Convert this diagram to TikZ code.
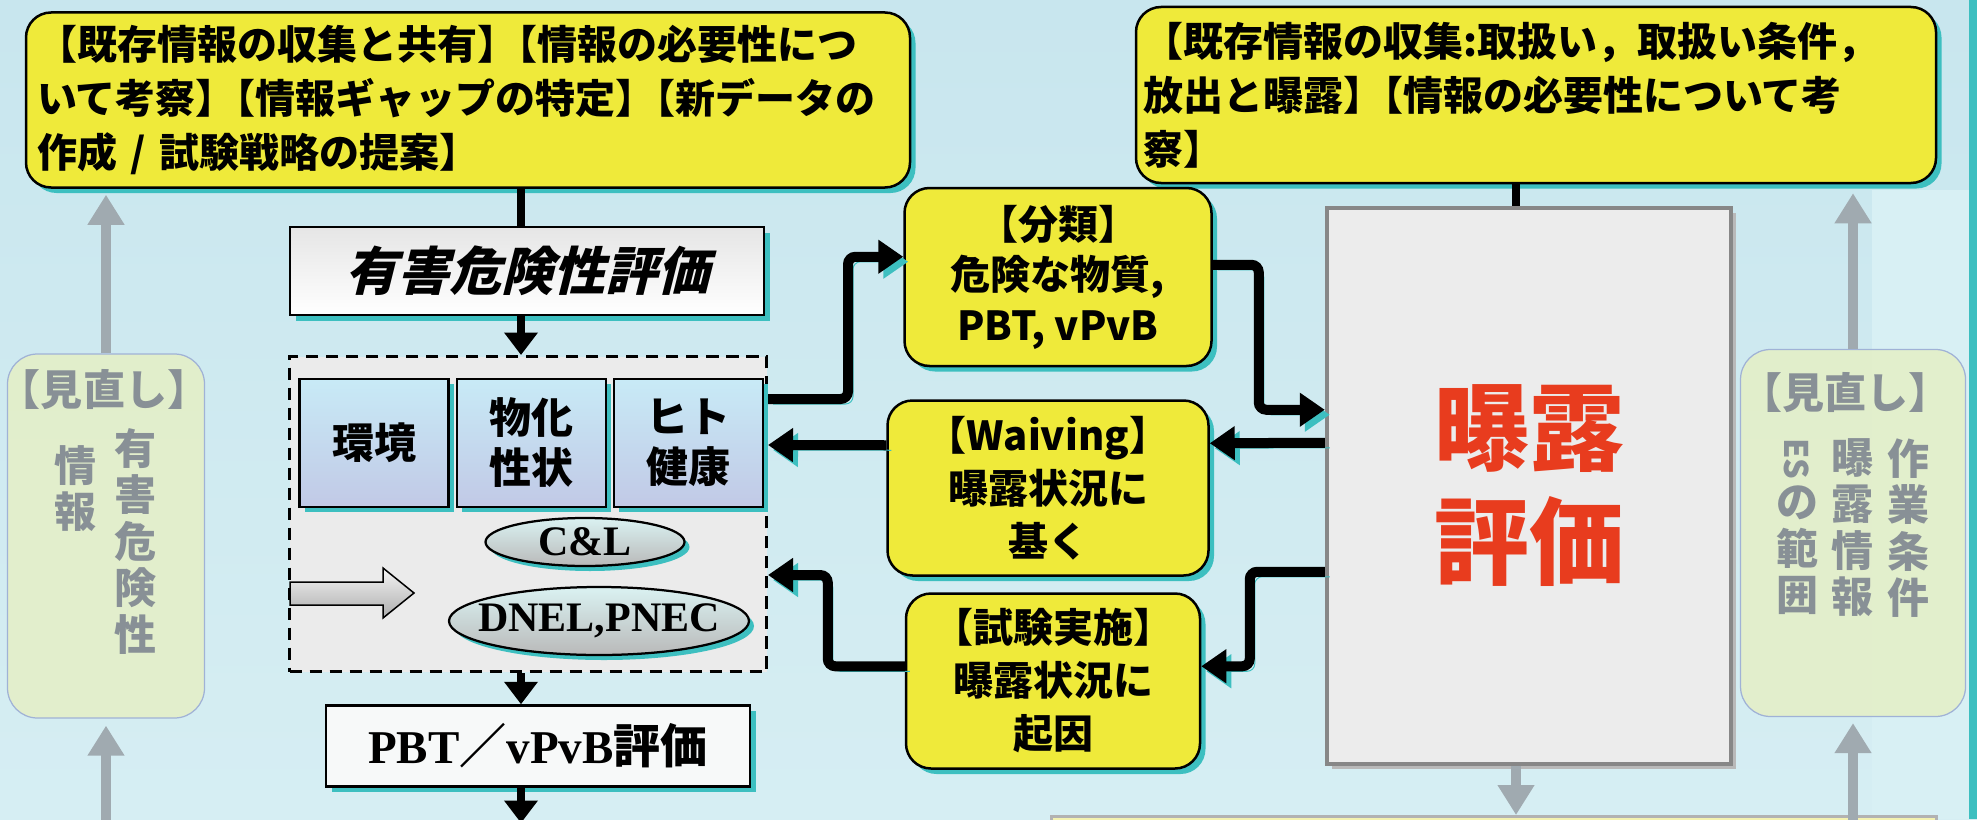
\documentclass[tikz,border=0pt]{standalone}
\usepackage{fontspec}
\usepackage{graphicx}
\setmainfont{Liberation Serif}
\newfontfamily\jp{Noto Sans CJK JP}
\newfontfamily\jpsl{Noto Sans CJK JP}[FakeSlant=0.25]
\usetikzlibrary{positioning,calc,shapes.geometric,arrows.meta,shadows}

\newlength\pxlen
\setlength\pxlen{0.4pt}

\definecolor{bgtop}{RGB}{200,230,238}
\definecolor{bgbot}{RGB}{214,238,243}
\definecolor{bgband}{RGB}{216,240,244}
\definecolor{boxyel}{RGB}{239,234,58}
\definecolor{shteal}{RGB}{61,191,192}
\definecolor{expred}{RGB}{232,60,30}
\definecolor{expfill}{RGB}{236,236,236}
\definecolor{expline}{RGB}{135,135,135}
\definecolor{panelgray}{RGB}{235,235,235}
\definecolor{subtop}{RGB}{200,234,246}
\definecolor{subbot}{RGB}{193,201,230}
\definecolor{ghostfill}{RGB}{228,239,200}
\definecolor{ghostline}{RGB}{160,178,214}
\definecolor{ghosttext}{RGB}{136,144,150}
\definecolor{ghostarrow}{RGB}{160,170,176}
\definecolor{nextyel}{RGB}{244,242,176}

\begin{document}
\begin{tikzpicture}[x=0.4pt, y=-0.4pt,
ybox/.style={draw=black, line width=1pt, fill=boxyel, rounded corners=10pt, inner sep=0pt,
  drop shadow={shadow xshift=2.2pt, shadow yshift=-2.2pt, fill=shteal, opacity=1},
  font=\jp\bfseries\fontsize{16pt}{21.6pt}\selectfont},
wbox/.style={draw=black, line width=1pt, inner sep=0pt,
  drop shadow={shadow xshift=2.2pt, shadow yshift=-2.2pt, fill=shteal, opacity=1}},
subbox/.style={draw=black, line width=0.9pt, top color=subtop, bottom color=subbot,
  minimum width=149\pxlen, minimum height=128\pxlen, align=center, inner sep=0pt,
  drop shadow={shadow xshift=2pt, shadow yshift=-2pt, fill=shteal, opacity=1},
  font=\jp\bfseries\fontsize{16.8pt}{20pt}\selectfont},
pill/.style={ellipse, draw=black, line width=0.9pt, top color={rgb,255:red,218;green,242;blue,242},
  bottom color=gray!55, inner xsep=-6pt, inner ysep=0pt,
  drop shadow={shadow xshift=2pt, shadow yshift=-2pt, fill=shteal, opacity=1},
  font=\bfseries\fontsize{16.8pt}{18pt}\selectfont},
panel/.style={draw=black, line width=1.2pt, dash pattern=on 5pt off 3pt, fill=panelgray},
expbox/.style={draw=expline, line width=1.8pt, fill=expfill,
  drop shadow={shadow xshift=2pt, shadow yshift=-2pt, fill=gray!55, opacity=1}},
ghostbox/.style={draw=ghostline, line width=0.5pt, fill=ghostfill, fill opacity=0.9, rounded corners=12pt},
ghosttxt/.style={text=ghosttext, inner sep=0pt, align=center,
  font=\jp\bfseries\fontsize{16.8pt}{18.6pt}\selectfont},
ghostarr/.style={line width=4pt, draw=ghostarrow, -{Triangle[width=14pt,length=12pt]}},
flow/.style={line width=4pt, -{Triangle[width=13pt,length=10pt]}, rounded corners=3pt,
  preaction={draw=shteal, transform canvas={shift={(2pt,-2pt)}}}},
vlink/.style={line width=3.2pt, -{Triangle[width=13pt,length=9pt]}},
vstem/.style={line width=3.2pt}]

\useasboundingbox (0,0) rectangle (1977,819);
\clip (0,0) rectangle (1977,819);
\fill[top color=bgtop, bottom color=bgbot] (0,0) rectangle (1977,819);
\fill[bgband] (1872,190) rectangle (1969,819);
\fill[shteal] (1969,0) rectangle (1977,819);

\node[ybox, minimum width=884\pxlen, minimum height=175\pxlen, text width=862\pxlen, align=left] (infol) at (468,100)
  {【既存情報の収集と共有】\kern-.5em【情報の必要性につ\\いて考察】\kern-.5em【情報ギャップの特定】\kern-.5em【新データの\\作成 / 試験戦略の提案】};
\node[ybox, minimum width=800\pxlen, minimum height=176\pxlen, text width=786\pxlen, align=left] (infor) at (1536,95)
  {【既存情報の収集:取扱い，取扱い条件，\\放出と曝露】\kern-.5em【情報の必要性について考\\察】};

\node[ghostbox, minimum width=197\pxlen, minimum height=364\pxlen] (ghostl) at (106,536) {};
\node[ghosttxt] (ghostlhead) at (104,390) {【見直し】};
\node[ghosttxt, anchor=north] (ghostlc1) at (135,428) {有\\害\\危\\険\\性};
\node[ghosttxt, anchor=north] (ghostlc2) at (75,445) {情\\報};

\node[ghostbox, minimum width=225\pxlen, minimum height=367\pxlen] (ghostr) at (1853,533) {};
\node[ghosttxt] (ghostrhead) at (1845,393) {【見直し】};
\node[ghosttxt, anchor=north] (ghostrc1) at (1908,438) {作\\業\\条\\件};
\node[ghosttxt, anchor=north] (ghostrc2) at (1852,438) {曝\\露\\情\\報};
\node[ghosttxt, anchor=north] (ghostrc3) at (1797,438) {\rotatebox[origin=c]{-90}{\fontsize{13pt}{13pt}\selectfont ES}\\の\\範\\囲};

\node[wbox, top color=gray!20, bottom color=white, minimum width=474\pxlen, minimum height=88\pxlen,
  font=\jpsl\bfseries\fontsize{20.8pt}{24pt}\selectfont] (hazbox) at (527,271) {有害危険性評価};

\node[panel, minimum width=477\pxlen, minimum height=315\pxlen] (hazpanel) at (528,514) {};
\node[subbox] (env) at (374,443) {環境};
\node[subbox, right=6\pxlen of env] (phys) {物化\\性状};
\node[subbox, right=6\pxlen of phys] (hum) {ヒト\\健康};
\node[pill, minimum width=199\pxlen, minimum height=48\pxlen] (cl) at (585,542) {C\&L};
\node[pill, minimum width=300\pxlen, minimum height=68\pxlen] (dnel) at (599,621) {DNEL,PNEC};
\path[draw=black, line width=0.6pt, top color=gray!8, bottom color=gray!65]
  (290,582) -- (383,582) -- (383,568) -- (414,593) -- (383,618) -- (383,605) -- (290,605) -- cycle;

\node[wbox, fill={rgb,255:red,247;green,249;blue,249}, minimum width=424\pxlen, minimum height=81\pxlen,
  font=\bfseries\fontsize{18.8pt}{20pt}\selectfont] (pbt) at (538,746) {PBT{\jp ／}vPvB{\jp 評価}};

\node[ybox, minimum width=307\pxlen, minimum height=178\pxlen, align=center,
  font=\jp\bfseries\fontsize{16pt}{20.2pt}\selectfont] (cls) at (1058,277) {【分類】\\危険な物質,\\PBT, vPvB};
\node[ybox, minimum width=321\pxlen, minimum height=175\pxlen, align=center,
  font=\jp\bfseries\fontsize{16pt}{21.2pt}\selectfont] (waive) at (1048,488) {【Waiving】\\曝露状況に\\基く};
\node[ybox, minimum width=294\pxlen, minimum height=175\pxlen, align=center,
  font=\jp\bfseries\fontsize{16pt}{21.2pt}\selectfont] (test) at (1053,681) {【試験実施】\\曝露状況に\\起因};

\node[expbox, minimum width=404\pxlen, minimum height=556\pxlen, text=expred, align=center,
  font=\jp\bfseries\fontsize{38pt}{45.6pt}\selectfont] (expo) at (1529,486) {曝露\\評価};

\node[draw=gray!60, line width=1pt, fill=nextyel, minimum width=885\pxlen, minimum height=60\pxlen,
  anchor=north west] (nextbox) at (1050,815) {};

\coordinate (spine) at ($(hazbox.north)+(-6,0)$);
\draw[vstem] (spine |- infol.south) -- (spine);
\draw[vlink] ($(hazbox.south)+(-6,0)$) -- ($(hazpanel.north)+(-7,0)$);
\draw[vlink] ($(hazpanel.south)+(-7,0)$) -- ($(pbt.north)+(-17,0)$);
\coordinate (pbtfoot) at (521,823);
\draw[vlink] (pbt.south -| pbtfoot) -- (pbtfoot);

\coordinate (exptop) at ($(expo.north)+(-13,0)$);
\draw[vstem] (exptop |- infor.south) -- (exptop);
\coordinate (expdrop) at ($(expo.south)+(-13,0)$);
\draw[ghostarr] (expdrop) -- (expdrop |- nextbox.north);

\draw[ghostarr, shorten >=2.4pt] (ghostl.north) -- (ghostl.north |- infol.south);
\coordinate (lfoot) at (106,830);
\draw[ghostarr, shorten >=2.8pt] (lfoot) -- (ghostl.south);
\draw[ghostarr, shorten >=3.6pt] (ghostr.north) -- (ghostr.north |- infor.south);
\coordinate (rfoot) at (1853,830);
\draw[ghostarr, shorten >=2.4pt] (rfoot) -- (ghostr.south);

\draw[flow] ($(hazpanel.north east)+(0,44)$) -- ++(80,0) |- ($(cls.north west)+(0,70)$);
\draw[flow] ($(cls.north east)+(0,78)$) -- ++(46,0) |- ($(expo.north west)+(0,204)$);
\draw[flow] ($(expo.north west)+(0,237)$) -- ($(waive.north east)+(0,44)$);
\draw[flow] ($(waive.north west)+(0,46)$) -- ($(hazpanel.north east)+(0,90)$);
\draw[flow] ($(expo.north west)+(0,366)$) -- ++(-75,0) |- ($(test.north east)+(0,74)$);
\draw[flow] ($(test.north west)+(0,74)$) -- ++(-77,0) |- ($(hazpanel.north east)+(0,220)$);
\end{tikzpicture}
\end{document}
